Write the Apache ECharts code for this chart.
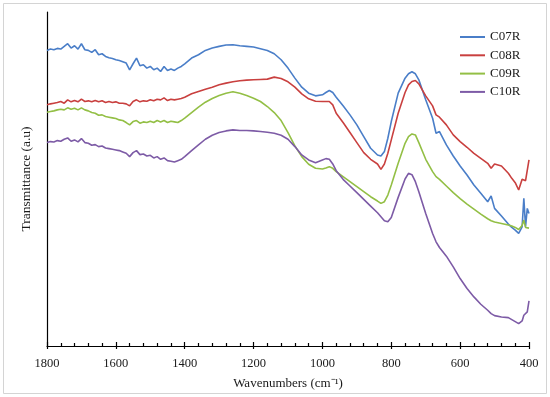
<!DOCTYPE html>
<html><head><meta charset="utf-8">
<script src="https://cdn.jsdelivr.net/npm/echarts@6/dist/echarts.min.js"></script>
<style>html,body{margin:0;padding:0;background:#fff}#c{width:550px;height:397px}</style>
</head><body><div id="c"></div>
<script>
// Wavenumbers (cm-1)
const wavenumbers = [1800,1790,1780,1770,1760,1750,1740,1730,1720,1710,1700,1690,1680,1670,1660,1650,1640,1630,1620,1610,1600,1590,1580,1570,1560,1550,1540,1530,1520,1510,1500,1490,1480,1470,1460,1450,1440,1430,1420,1410,1400,
1380,1360,1340,1320,1300,1280,1260,1240,1220,1200,1180,1160,1140,1120,1100,1080,1060,1040,1020,1000,
990,980,970,960,940,920,900,880,860,840,830,820,810,800,780,760,750,740,730,720,700,680,670,660,640,620,600,580,560,540,520,510,500,480,460,450,440,430,420,415,410,405,400];

const C07R = [88.5,88.9,88.7,89.1,88.9,89.7,90.5,89.2,89.9,88.9,90.5,88.7,88.5,87.9,88.7,87.2,87.5,86.7,86.3,86.1,85.7,85.5,85.1,84.7,82.7,84.5,86.2,83.9,84.2,83.2,83.7,82.7,83.2,82.2,83.7,82.5,82.9,82.5,83.2,83.7,84.5,
86.2,87.2,88.5,89.2,89.7,90.1,90.2,89.9,89.7,89.5,89.0,88.5,87.5,85.7,83.2,80.2,77.5,75.7,74.9,75.2,
75.9,76.5,75.9,74.5,71.9,69.2,66.2,62.7,59.2,57.2,56.9,58.2,62.2,67.2,75.7,80.2,81.5,82.1,81.5,79.7,73.7,68.2,63.7,64.2,60.2,56.9,53.9,51.2,48.2,45.7,43.2,44.9,41.2,38.9,36.5,35.5,34.7,33.7,35.7,44.2,35.7,41.2,39.7];

const C08R = [72.2,72.5,72.7,72.9,73.2,72.7,73.7,73.1,73.5,73.1,73.9,73.2,73.4,73.1,73.5,73.1,73.4,72.9,73.2,72.9,73.1,72.7,72.7,72.5,71.9,73.2,73.7,73.1,73.4,73.3,73.7,73.4,73.9,73.7,74.3,73.5,73.9,73.7,73.9,74.1,74.5,
75.5,76.2,76.9,77.5,78.2,78.7,79.1,79.4,79.6,79.7,79.8,79.9,80.5,80.1,79.1,77.5,75.5,74.0,73.3,73.2,
73.2,73.2,72.2,69.7,66.9,63.9,60.9,57.9,55.9,54.5,52.9,54.5,57.7,61.7,69.7,75.9,78.2,79.2,79.5,78.5,74.9,71.9,69.2,68.5,66.2,63.2,61.2,59.5,57.7,56.2,54.7,53.2,54.5,53.9,51.7,50.2,48.9,46.7,49.9,49.7,49.5,49.2,55.7];

const C09R = [70.0,70.2,70.4,70.7,70.9,70.7,71.3,70.9,71.2,70.7,71.3,70.7,70.4,69.9,69.7,69.1,69.2,68.7,68.5,68.3,68.1,67.7,67.5,66.9,66.2,67.2,67.5,66.7,67.1,66.9,67.3,66.9,67.5,67.1,67.5,66.9,67.3,67.1,66.9,67.5,68.2,
69.9,71.5,73.0,74.1,75.0,75.7,76.1,75.7,75.0,74.2,73.2,71.7,69.9,67.5,63.9,59.9,56.7,54.4,53.2,53.0,
53.3,53.7,53.2,52.2,50.7,49.2,47.7,46.2,44.7,43.4,42.7,43.2,45.2,48.2,54.7,60.7,62.7,63.5,63.2,60.9,55.9,52.2,50.7,49.9,47.9,45.9,44.1,42.5,41.0,39.5,38.1,37.5,37.1,36.7,36.2,35.9,35.5,34.9,36.1,37.7,35.5,35.9,35.3];

const C10R = [60.9,61.2,61.1,61.5,61.3,61.9,62.3,61.3,61.7,61.1,62.1,60.9,60.7,60.1,60.3,59.7,59.9,59.3,59.1,58.9,58.7,58.5,58.1,57.7,56.7,57.9,58.5,57.3,57.5,56.9,57.1,56.3,56.7,55.9,56.3,55.5,55.3,55.1,55.5,55.9,56.7,
58.5,60.2,61.9,63.1,63.9,64.4,64.7,64.5,64.5,64.4,64.2,64.0,63.7,63.1,61.9,59.7,57.2,55.7,54.9,55.7,
56.1,55.9,54.5,52.5,49.9,47.9,45.9,43.9,41.9,39.9,38.7,37.5,37.2,38.5,44.5,50.0,51.7,51.3,49.2,46.2,39.7,33.7,31.2,29.5,26.9,23.7,20.2,17.2,14.7,12.5,10.7,9.7,9.1,8.7,8.5,7.9,7.3,6.7,7.5,9.2,9.2,10.2,13.5];

const seriesNames = ['C07R','C08R','C09R','C10R'];
const seriesValues = [C07R, C08R, C09R, C10R];
const colors = ['#4A7EC8','#C9403F','#93BF45','#7D5BA6'];
const xTicks = {min: 400, max: 1800, interval: 200};

const font = 'Liberation Serif';
const chart = echarts.init(document.getElementById('c'), null, {renderer: 'canvas'});
chart.setOption({
  animation: false,
  backgroundColor: '#fff',
  grid: {left: 47, right: 21, top: 12, bottom: 51, containLabel: false},
  graphic: [{type: 'rect', shape: {x: 3.5, y: 3.5, width: 543, height: 390}, style: {fill: 'none', stroke: '#d4d4d4', lineWidth: 1}, silent: true}],
  legend: {
    orient: 'vertical', left: 455, top: 25, itemWidth: 25, itemHeight: 2, itemGap: 4.3,
    icon: 'rect',
    data: seriesNames,
    textStyle: {fontFamily: font, fontSize: 13, color: '#1a1a1a', lineHeight: 14}
  },
  xAxis: [{
    type: 'value', inverse: true, min: xTicks.min, max: xTicks.max, interval: xTicks.interval,
    position: 'bottom',
    name: 'Wavenumbers (cm\u207B\u00B9)', nameLocation: 'middle', nameGap: 31,
    nameTextStyle: {fontFamily: font, fontSize: 13, color: '#1a1a1a'},
    axisLine: {show: true, lineStyle: {color: '#000', width: 1.2}},
    axisTick: {show: true, inside: true, length: 4, lineStyle: {color: '#000', width: 1.2}},
    minorTick: {show: true, splitNumber: 5, length: 3, lineStyle: {color: '#000', width: 1.2}},
    splitLine: {show: false},
    axisLabel: {fontFamily: font, fontSize: 12.5, color: '#1a1a1a', margin: 11, formatter: v => String(v)}
  }, {
    type: 'value', inverse: true, min: xTicks.min, max: xTicks.max, interval: xTicks.interval,
    position: 'bottom',
    axisLine: {show: false},
    axisTick: {show: true, inside: false, length: 3, lineStyle: {color: '#000', width: 1.2}},
    axisLabel: {show: false}, splitLine: {show: false}
  }],
  yAxis: {
    type: 'value', min: 0, max: 100,
    name: 'Transmittance (a.u)', nameLocation: 'middle', nameGap: 14,
    nameTextStyle: {fontFamily: font, fontSize: 13.5, color: '#1a1a1a'},
    axisLine: {show: true, lineStyle: {color: '#000', width: 1.2}},
    axisTick: {show: false}, axisLabel: {show: false}, splitLine: {show: false}
  },
  series: seriesNames.map((n, i) => ({
    name: n, type: 'line', showSymbol: false, symbol: 'none',
    data: wavenumbers.map((w, j) => [w, seriesValues[i][j]]),
    lineStyle: {color: colors[i], width: 1.6},
    itemStyle: {color: colors[i]}
  }))
});
</script></body></html>
